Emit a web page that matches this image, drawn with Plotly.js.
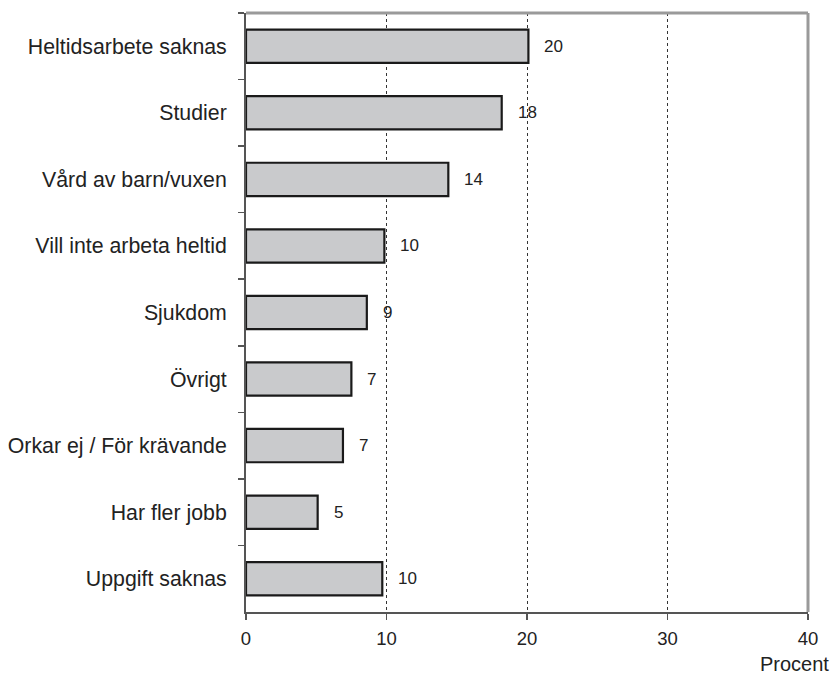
<!DOCTYPE html>
<html>
<head>
<meta charset="utf-8">
<script src="https://cdn.plot.ly/plotly-3.0.1.min.js"></script>
<style>html,body{margin:0;padding:0;background:#fff;}#chart{width:834px;height:676px;}</style>
</head>
<body>
<div id="chart"></div>
<script>
const categories = ["Heltidsarbete saknas","Studier","Vård av barn/vuxen","Vill inte arbeta heltid","Sjukdom","Övrigt","Orkar ej / För krävande","Har fler jobb","Uppgift saknas"];
const values = [20.1, 18.2, 14.4, 9.85, 8.6, 7.5, 6.9, 5.1, 9.7];
const valueLabels = ["20","18","14","10","9","7","7","5","10"];
const xTicks = [0, 10, 20, 30, 40];
const axisTitle = "Procent";

const font = "Liberation Sans, Arial, sans-serif";

const trace = {
  type: "bar",
  orientation: "h",
  x: values,
  y: categories,
  width: 0.5,
  marker: { color: "#c9cacc", line: { color: "#1a1a1a", width: 2.2 } },
  hoverinfo: "none"
};

const annotations = values.map((v, i) => ({
  x: v, y: categories[i], xref: "x", yref: "y",
  text: valueLabels[i], showarrow: false,
  xanchor: "left", yanchor: "middle", xshift: 14,
  font: { family: font, size: 17, color: "#222" }
}));
annotations.push({
  xref: "paper", yref: "paper", x: 1, y: 0, xanchor: "right", yanchor: "top",
  xshift: 22, yshift: -40, text: axisTitle, showarrow: false, borderpad: 0,
  font: { family: font, size: 20, color: "#222" }
});

const layout = {
  width: 834, height: 676,
  margin: { l: 246, r: 26, t: 13, b: 64 },
  paper_bgcolor: "#fff", plot_bgcolor: "#fff",
  showlegend: false,
  bargap: 0.5,
  font: { family: font, color: "#222" },
  xaxis: {
    range: [0, 40], tickvals: xTicks, ticktext: xTicks.map(String),
    showline: true, linecolor: "#555", linewidth: 2,
    ticks: "outside", ticklen: 6, tickcolor: "#555", tickwidth: 1.5,
    showgrid: true, gridcolor: "#333", gridwidth: 1, griddash: "dot",
    zeroline: false, fixedrange: true,
    ticklabelstandoff: 3,
    tickfont: { family: font, size: 18.5, color: "#222" }
  },
  yaxis: {
    type: "category", autorange: "reversed",
    showline: true, linecolor: "#555", linewidth: 2,
    ticks: "outside", tickson: "boundaries", ticklen: 6, tickcolor: "#555", tickwidth: 1.5,
    showgrid: false, zeroline: false, fixedrange: true,
    ticklabelstandoff: 13,
    tickfont: { family: font, size: 21.3, color: "#222" }
  },
  shapes: [
    { type: "line", xref: "paper", yref: "paper", x0: 0, x1: 1, y0: 1, y1: 1, line: { color: "#9a9a9a", width: 3 } },
    { type: "line", xref: "paper", yref: "paper", x0: 1, x1: 1, y0: 0, y1: 1, line: { color: "#9a9a9a", width: 3 } }
  ],
  annotations: annotations
};

Plotly.newPlot("chart", [trace], layout, { displayModeBar: false, staticPlot: true });
</script>
</body>
</html>
